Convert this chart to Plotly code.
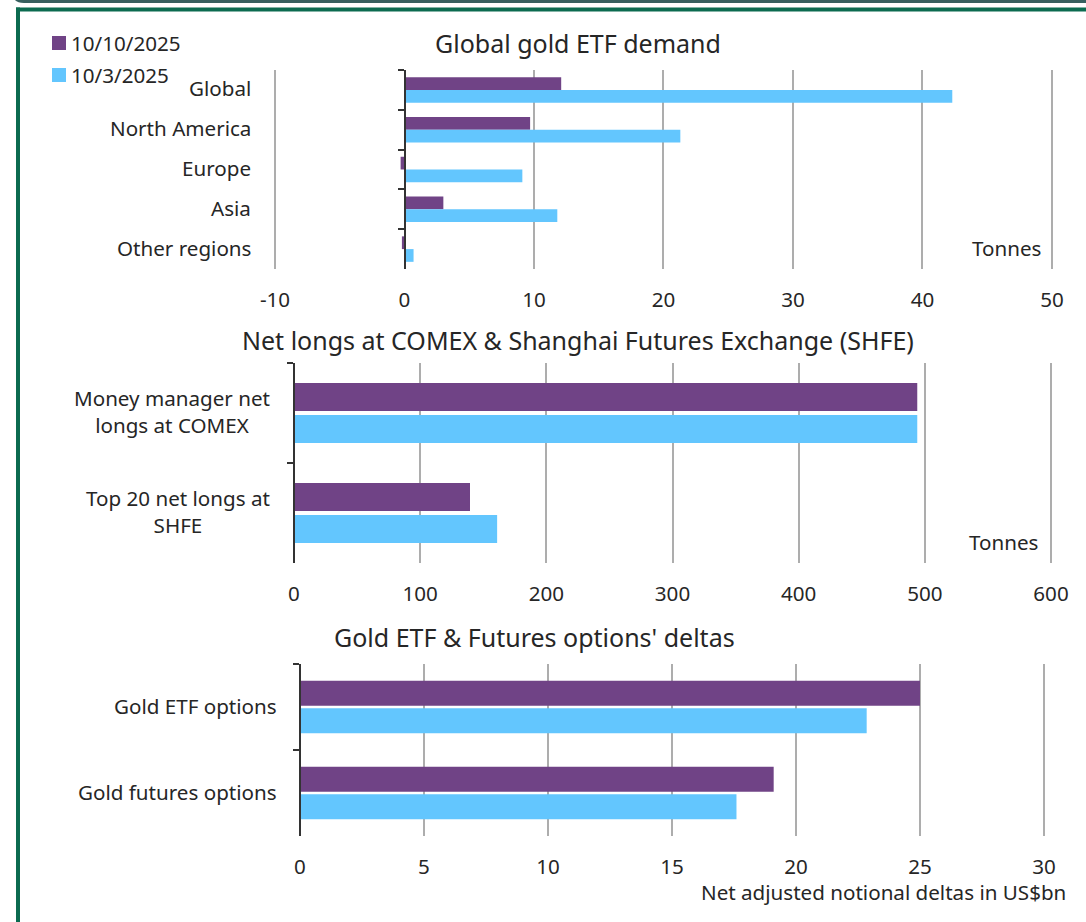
import plotly.graph_objects as go

W, H = 1086, 922
FONT = "Noto Sans"
TXT = "#262626"
FS = 20.6      # body text size
FS_TITLE = 25  # panel title size

# Series
series_names = ["10/10/2025", "10/3/2025"]
series_colors = ["#704386", "#63c6fe"]

# Panel 1: Global gold ETF demand (tonnes)
etf_regions = ["Global", "North America", "Europe", "Asia", "Other regions"]
etf_oct10 = [12.1, 9.7, -0.3, 3.0, -0.2]
etf_oct03 = [42.3, 21.3, 9.1, 11.8, 0.7]
etf_ticks = [-10, 0, 10, 20, 30, 40, 50]

# Panel 2: Net longs at COMEX & SHFE (tonnes)
fut_labels = ["Money manager net<br>longs at COMEX", "Top 20 net longs at<br>SHFE"]
fut_oct10 = [494, 139.5]
fut_oct03 = [494, 161]
fut_ticks = [0, 100, 200, 300, 400, 500, 600]

# Panel 3: Gold ETF & futures options' deltas (US$bn)
opt_labels = ["Gold ETF options", "Gold futures options"]
opt_oct10 = [25.0, 19.1]
opt_oct03 = [22.85, 17.6]
opt_ticks = [0, 5, 10, 15, 20, 25, 30]

titles = [
    "Global gold ETF demand",
    "Net longs at COMEX & Shanghai Futures Exchange (SHFE)",
    "Gold ETF & Futures options' deltas",
]


def px_x(p):
    return p / W


def px_y(p):
    return 1 - p / H


# Layout geometry of each panel (pixel calibration of the value axis)
panels = [
    dict(cats=etf_regions, a=etf_oct10, b=etf_oct03, ticks=etf_ticks,
         cal=(-10, 275, 50, 1052), rng=(-10.3, 50.3), top=70, bot=269,
         label_right=253, title_x=578, title_y=43, bar_w=0.32, offs=(-0.32, 0.0)),
    dict(cats=fut_labels, a=fut_oct10, b=fut_oct03, ticks=fut_ticks,
         cal=(0, 294, 600, 1051), rng=(0, 603), top=363, bot=563,
         label_right=272, title_x=578, title_y=340, bar_w=0.28, offs=(-0.30, 0.02)),
    dict(cats=opt_labels, a=opt_oct10, b=opt_oct03, ticks=opt_ticks,
         cal=(0, 300, 30, 1044), rng=(0, 30.15), top=664, bot=836,
         label_right=279, title_x=534, title_y=637, bar_w=0.29, offs=(-0.305, 0.015)),
]

fig = go.Figure()
annotations = []

for i, p in enumerate(panels, start=1):
    xa = "x" if i == 1 else f"x{i}"
    ya = "y" if i == 1 else f"y{i}"
    v0, p0, v1, p1 = p["cal"]
    scale = (p1 - p0) / (v1 - v0)
    lo, hi = p["rng"]
    dom_x = [px_x(p0 + (lo - v0) * scale), px_x(p0 + (hi - v0) * scale)]
    zero_pos = px_x(p0 + (0 - v0) * scale)
    dom_y = [px_y(p["bot"]), px_y(p["top"])]

    for k, (vals, name, col) in enumerate(zip((p["a"], p["b"]), series_names, series_colors)):
        fig.add_trace(go.Bar(
            y=p["cats"], x=vals, orientation="h", name=name,
            marker=dict(color=col, line=dict(width=0)),
            width=p["bar_w"], offset=p["offs"][k],
            xaxis=xa, yaxis=ya, showlegend=False,
        ))

    fig.update_layout({
        f"xaxis{'' if i == 1 else i}": dict(
            domain=dom_x, range=[lo, hi], tickmode="array",
            tickvals=p["ticks"], ticktext=[str(t) for t in p["ticks"]],
            anchor=ya, showgrid=True, gridcolor="#adadad", gridwidth=2,
            zeroline=False, showline=False, ticks="outside", ticklen=0,
            ticklabelstandoff=12, automargin=False,
            tickfont=dict(family=FONT, size=FS, color=TXT),
        ),
        f"yaxis{'' if i == 1 else i}": dict(
            domain=dom_y, type="category", categoryorder="array",
            categoryarray=p["cats"], autorange="reversed",
            anchor="free", position=zero_pos, showgrid=False, zeroline=False,
            showline=True, linecolor="#333333", linewidth=1.5,
            ticks="outside", tickson="boundaries", ticklen=6,
            tickcolor="#333333", tickwidth=1.5, showticklabels=False,
            automargin=False,
        ),
    })

    for c in p["cats"]:
        annotations.append(dict(
            xref="paper", yref=ya, x=px_x(p["label_right"]), y=c, yshift=1.5,
            text=c, showarrow=False, xanchor="right", yanchor="middle",
            align="center", font=dict(family=FONT, size=FS, color=TXT),
        ))

    annotations.append(dict(
        xref="paper", yref="paper", x=px_x(p["title_x"]), y=px_y(p["title_y"]),
        text=titles[i - 1], showarrow=False, xanchor="center", yanchor="middle",
        font=dict(family=FONT, size=FS_TITLE, color=TXT),
    ))

# Unit labels
annotations.append(dict(xref="paper", yref="paper", x=px_x(1043), y=px_y(248),
                        text="Tonnes", showarrow=False, xanchor="right", yanchor="middle",
                        font=dict(family=FONT, size=FS, color=TXT)))
annotations.append(dict(xref="paper", yref="paper", x=px_x(1040), y=px_y(542),
                        text="Tonnes", showarrow=False, xanchor="right", yanchor="middle",
                        font=dict(family=FONT, size=FS, color=TXT)))
annotations.append(dict(xref="paper", yref="paper", x=px_x(1068), y=px_y(892),
                        text="Net adjusted notional deltas in US$bn", showarrow=False,
                        xanchor="right", yanchor="middle",
                        font=dict(family=FONT, size=FS, color=TXT)))

# Legend: colour swatch + series name
shapes = []
for k, (name, col) in enumerate(zip(series_names, series_colors)):
    yc = 43 + 32 * k
    shapes.append(dict(type="rect", xref="paper", yref="paper",
                       x0=px_x(52), x1=px_x(66), y0=px_y(yc + 7), y1=px_y(yc - 7),
                       fillcolor=col, line=dict(width=0)))
    annotations.append(dict(xref="paper", yref="paper", x=px_x(69), y=px_y(yc),
                            text=name, showarrow=False, xanchor="left", yanchor="middle",
                            font=dict(family=FONT, size=FS, color=TXT)))

# Frame around the figure
band = (f"M {px_x(13)},{px_y(-8)} L {px_x(1090)},{px_y(-8)} L {px_x(1090)},{px_y(3)} "
        f"L {px_x(24)},{px_y(3)} Q {px_x(13)},{px_y(3)} {px_x(13)},{px_y(-6)} Z")
shapes += [
    dict(type="path", xref="paper", yref="paper", path=band,
         fillcolor="#37605f", line=dict(width=0), layer="above"),
    dict(type="rect", xref="paper", yref="paper", x0=px_x(16), x1=px_x(1090),
         y0=px_y(7.5), y1=px_y(11.5), fillcolor="#0c6b50", line=dict(width=0)),
    dict(type="rect", xref="paper", yref="paper", x0=px_x(16), x1=px_x(20),
         y0=px_y(7.5), y1=px_y(930), fillcolor="#0c6b50", line=dict(width=0)),
]

fig.update_layout(
    width=W, height=H, margin=dict(l=0, r=0, t=0, b=0, autoexpand=False),
    paper_bgcolor="white", plot_bgcolor="white",
    barmode="overlay", showlegend=False,
    annotations=annotations, shapes=shapes,
    font=dict(family=FONT, color=TXT),
)

fig.write_html("out.html")
